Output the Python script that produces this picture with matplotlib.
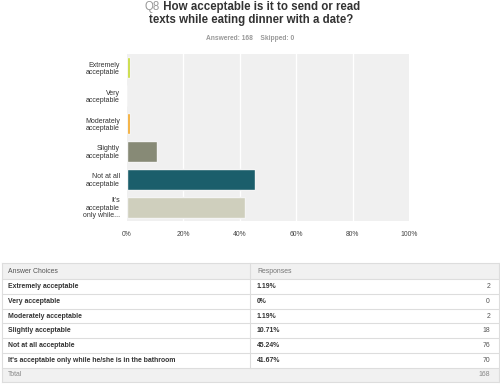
import matplotlib.pyplot as plt
from matplotlib.patches import Rectangle

plt.rcParams['font.family'] = ['Liberation Sans', 'DejaVu Sans']

# survey data
choices = ['Extremely acceptable', 'Very acceptable', 'Moderately acceptable',
           'Slightly acceptable', 'Not at all acceptable',
           "It's acceptable only while he/she is in the bathroom"]
bar_labels = ['Extremely\nacceptable', 'Very\nacceptable', 'Moderately\nacceptable',
              'Slightly\nacceptable', 'Not at all\nacceptable',
              "It's\nacceptable\nonly while..."]
pct = [1.19, 0, 1.19, 10.71, 45.24, 41.67]
counts = [2, 0, 2, 18, 76, 70]
total = 168
skipped = 0
xticks = [0, 20, 40, 60, 80, 100]
bar_colors = ['#c5d92d', '#2e9fd0', '#f5a623', '#878a76', '#1b5e6b', '#cfcfbd']

fig = plt.figure(figsize=(5, 3.85), dpi=100)
W, H = 500, 385

# ---- bar chart ----
ax = fig.add_axes([127 / W, 1 - 221 / H, 282 / W, 167 / H])
ax.set_facecolor('#f0f0f0')
ypos = list(range(len(pct)))
ax.barh(ypos, pct, height=0.76, color=bar_colors, edgecolor='#f4f4f4', linewidth=1, zorder=3)
ax.set_xlim(0, 100)
ax.set_ylim(len(pct) - 0.5, -0.5)
ax.set_xticks(xticks)
ax.set_xticklabels([f'{t}%' for t in xticks], fontsize=4.9, color='#444444')
ax.set_yticks(ypos)
ax.set_yticklabels(bar_labels, fontsize=5.0, color='#333333', linespacing=1.05)
ax.tick_params(length=0, pad=5)
ax.tick_params(axis='x', pad=7)
for s in ax.spines.values():
    s.set_visible(False)
for t in xticks[1:-1]:
    ax.axvline(t, color='white', lw=1, zorder=1)

# ---- title ----
fig.canvas.draw()
r = fig.canvas.get_renderer()
t1 = fig.text(0, 1 - 7 / H, 'Q8', fontsize=8.3, color='#999999', va='center')
t2 = fig.text(0, 1 - 7 / H, ' How acceptable is it to send or read', fontsize=8.3,
              fontweight='bold', color='#333333', va='center')
w1 = t1.get_window_extent(r).width
w2 = t2.get_window_extent(r).width
x0 = (W - w1 - w2) / 2 + 2
t1.set_x(x0 / W)
t2.set_x((x0 + w1) / W)
fig.text(251 / W, 1 - 20 / H, 'texts while eating dinner with a date?', fontsize=8.3,
         fontweight='bold', color='#333333', ha='center', va='center')
fig.text(250 / W, 1 - 38 / H, f'Answered: {total}    Skipped: {skipped}', fontsize=4.8,
         fontweight='bold', color='#999999', ha='center', va='center')

# ---- table ----
tb = fig.add_axes([0, 0, 1, 1])
tb.set_xlim(0, W)
tb.set_ylim(H, 0)
tb.axis('off')
tb.patch.set_alpha(0)

left, right, mid = 2, 499, 250
top, head_h, row_h = 263, 16.3, 14.7
rows_y = [top + head_h + i * row_h for i in range(len(choices) + 2)]
bottom = rows_y[-1]
tb.add_patch(Rectangle((left, top), right - left, head_h, color='#f1f1f1', lw=0))
tb.add_patch(Rectangle((left, rows_y[-2]), right - left, row_h, color='#f1f1f1', lw=0))
line_c = '#dddddd'
tb.plot([left, right], [top, top], color=line_c, lw=0.8)
for y in rows_y:
    tb.plot([left, right], [y, y], color=line_c, lw=0.8)
tb.plot([left, left], [top, bottom], color=line_c, lw=0.8)
tb.plot([right, right], [top, bottom], color=line_c, lw=0.8)
tb.plot([mid, mid], [top, rows_y[-2]], color=line_c, lw=0.8)

fs = 4.95
tb.text(8, top + head_h / 2, 'Answer Choices', fontsize=fs, color='#555555', va='center')
tb.text(257, top + head_h / 2, 'Responses', fontsize=fs, color='#777777', va='center')
for i, (c, p, n) in enumerate(zip(choices, pct, counts)):
    yc = rows_y[i] + row_h / 2
    tb.text(8, yc, c, fontsize=fs, fontweight='bold', color='#333333', va='center')
    tb.text(257, yc, f'{p:g}%', fontsize=fs, fontweight='bold', color='#333333', va='center')
    tb.text(490, yc, str(n), fontsize=fs, color='#555555', va='center', ha='right')
yc = rows_y[-2] + row_h / 2
tb.text(8, yc, 'Total', fontsize=fs, color='#888888', va='center')
tb.text(490, yc, str(total), fontsize=fs, color='#888888', va='center', ha='right')

fig.savefig('out.png', dpi=100)
